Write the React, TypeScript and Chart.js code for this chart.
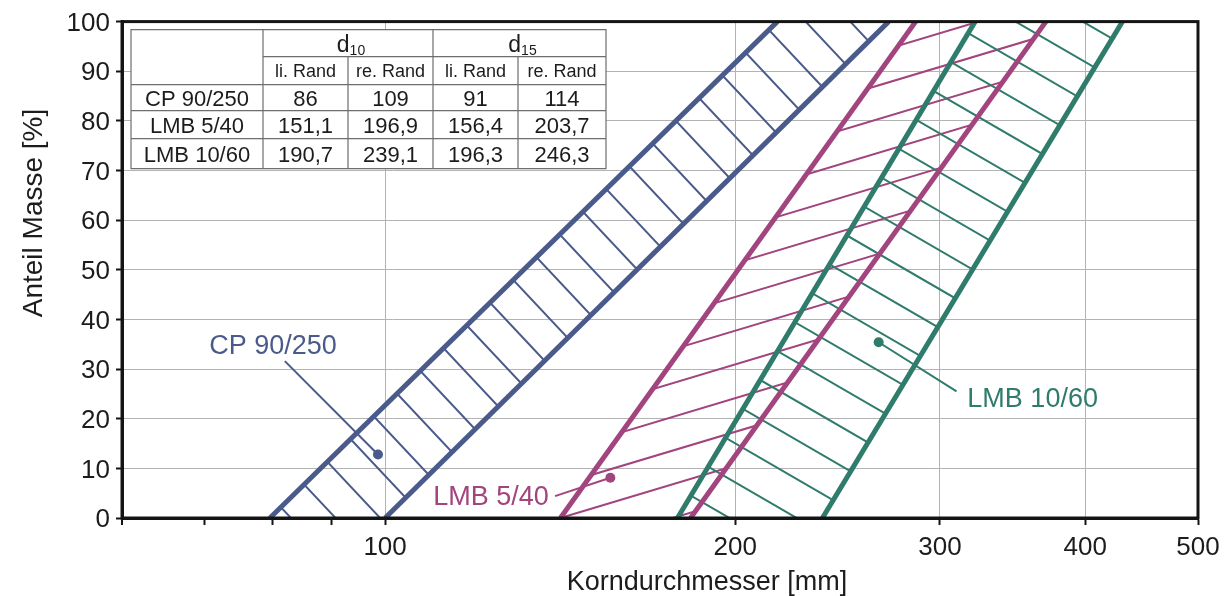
import React, { useEffect, useRef } from 'react';
import { Chart, registerables } from 'chart.js';

Chart.register(...registerables);

// ---------------- data ----------------
const xMin = 59.4;
const xMax = 500;
const xTickValues = [70, 80, 90, 100, 200, 300, 400, 500];
const xLabelValues = [100, 200, 300, 400, 500];
const xGridValues = [100, 200, 300, 400];

const boundaryY = [0, 100];
const cpLeftX = [79.6, 217.4];
const cpRightX = [100.0, 271.0];
const lmb540LeftX = [141.5, 285.9];
const lmb540RightX = [183.1, 370.0];
const lmb1060LeftX = [178.4, 321.6];
const lmb1060RightX = [237.7, 430.5];

// pointer lines: [label end, marker dot]
const cpPointerX = [82.0, 98.6];
const cpPointerY = [31.6, 12.8];
const lmb540PointerX = [140.0, 156.2];
const lmb540PointerY = [4.4, 8.1];
const lmb1060PointerX = [310.0, 265.7];
const lmb1060PointerY = [25.5, 35.4];

const seriesNames = ['CP 90/250', 'LMB 5/40', 'LMB 10/60'];
const tableGroups = ['10', '15'];
const tableSubHeads = ['li. Rand', 're. Rand', 'li. Rand', 're. Rand'];
const d10Left = ['86', '151,1', '190,7'];
const d10Right = ['109', '196,9', '239,1'];
const d15Left = ['91', '156,4', '196,3'];
const d15Right = ['114', '203,7', '246,3'];

const xTitle = 'Korndurchmesser [mm]';
const yTitle = 'Anteil Masse [%]';

// ---------------- styles ----------------
const FONT = "'Liberation Sans', Arial, sans-serif";
const BLUE = '#4a5b8b';
const MAGENTA = '#a2447e';
const TEAL = '#2f7b6c';
const TEXT = '#1c1c1c';

const labelStyles = [
  { text: seriesNames[0], x: 70.6, y: 33.0, color: BLUE },
  { text: seriesNames[1], x: 110.0, y: 2.6, color: MAGENTA },
  { text: seriesNames[2], x: 316.7, y: 22.4, color: TEAL },
];

const hatchStyles = [
  { left: 0, right: 1, color: BLUE, angle: 46.8, spacing: 32.5, ax: 83.0, ay: 0 },
  { left: 2, right: 3, color: MAGENTA, angle: -16.7, spacing: 32.3, ax: 141.5, ay: 0 },
  { left: 4, right: 5, color: TEAL, angle: 30.1, spacing: 33.7, ax: 218.7, ay: 33.3 },
];

const pts = (xs: number[], ys: number[]) => xs.map((x, i) => ({ x, y: ys[i] }));

const boundary = (xs: number[], color: string) => ({
  data: pts(xs, boundaryY),
  borderColor: color,
  borderWidth: 5,
  pointRadius: 0,
  fill: false,
  tension: 0,
  clip: 0,
});

const pointer = (xs: number[], ys: number[], color: string) => ({
  data: pts(xs, ys),
  borderColor: color,
  backgroundColor: color,
  borderWidth: 2,
  pointRadius: [0, 5],
  pointBorderWidth: 0,
  pointBackgroundColor: color,
  fill: false,
  tension: 0,
});

const hatchPlugin = {
  id: 'hatch',
  beforeDatasetsDraw(chart: any) {
    const ctx = chart.ctx;
    const a = chart.chartArea;
    const xs = chart.scales.x;
    const ys = chart.scales.y;
    hatchStyles.forEach((h) => {
      const pl = chart.getDatasetMeta(h.left).data;
      const pr = chart.getDatasetMeta(h.right).data;
      ctx.save();
      ctx.beginPath();
      ctx.rect(a.left, a.top, a.right - a.left, a.bottom - a.top);
      ctx.clip();
      ctx.beginPath();
      pl.forEach((p: any, i: number) => (i ? ctx.lineTo(p.x, p.y) : ctx.moveTo(p.x, p.y)));
      for (let i = pr.length - 1; i >= 0; i--) ctx.lineTo(pr[i].x, pr[i].y);
      ctx.closePath();
      ctx.clip();
      const th = (h.angle * Math.PI) / 180;
      const ux = Math.cos(th);
      const uy = Math.sin(th);
      const nx = -uy;
      const ny = ux;
      const px0 = xs.getPixelForValue(h.ax);
      const py0 = ys.getPixelForValue(h.ay);
      const d0 = nx * px0 + ny * py0;
      const corners = [
        [a.left, a.top],
        [a.right, a.top],
        [a.left, a.bottom],
        [a.right, a.bottom],
      ].map(([cx, cy]) => nx * cx + ny * cy);
      const dmin = Math.min(...corners);
      const dmax = Math.max(...corners);
      const L = 5000;
      ctx.beginPath();
      for (let k = Math.floor((dmin - d0) / h.spacing) - 1; k <= Math.ceil((dmax - d0) / h.spacing) + 1; k++) {
        const d = d0 + k * h.spacing;
        const cx = nx * d;
        const cy = ny * d;
        ctx.moveTo(cx - ux * L, cy - uy * L);
        ctx.lineTo(cx + ux * L, cy + uy * L);
      }
      ctx.strokeStyle = h.color;
      ctx.lineWidth = 2;
      ctx.stroke();
      ctx.restore();
    });
  },
};

const overlayPlugin = {
  id: 'overlay',
  afterDatasetsDraw(chart: any) {
    const ctx = chart.ctx;
    const a = chart.chartArea;
    const xs = chart.scales.x;
    const ys = chart.scales.y;
    ctx.save();
    // frame
    ctx.strokeStyle = '#141414';
    ctx.lineWidth = 3;
    ctx.strokeRect(a.left, a.top, a.right - a.left, a.bottom - a.top);
    ctx.lineWidth = 2;
    ctx.beginPath();
    ctx.moveTo(a.left, a.bottom);
    ctx.lineTo(a.left, a.bottom + 7);
    ctx.stroke();

    // series labels
    ctx.font = `27px ${FONT}`;
    ctx.textAlign = 'left';
    ctx.textBaseline = 'alphabetic';
    labelStyles.forEach((l) => {
      ctx.fillStyle = l.color;
      ctx.fillText(l.text, xs.getPixelForValue(l.x), ys.getPixelForValue(l.y));
    });

    // table
    const colW = [132, 85, 85, 85, 88];
    const rowH = [27, 28, 26, 28, 30];
    const tx = a.left + 9;
    const ty = a.top + 8;
    const colX = [tx];
    colW.forEach((w) => colX.push(colX[colX.length - 1] + w));
    const rowY = [ty];
    rowH.forEach((hh) => rowY.push(rowY[rowY.length - 1] + hh));
    const W = colX[5] - tx;
    const H = rowY[5] - ty;
    ctx.fillStyle = '#ffffff';
    ctx.fillRect(tx, ty, W, H);
    ctx.strokeStyle = '#6e6e6e';
    ctx.lineWidth = 1.2;
    ctx.beginPath();
    ctx.rect(tx, ty, W, H);
    ctx.moveTo(colX[1], rowY[1]);
    ctx.lineTo(colX[5], rowY[1]);
    for (let r = 2; r < 5; r++) {
      ctx.moveTo(tx, rowY[r]);
      ctx.lineTo(colX[5], rowY[r]);
    }
    ctx.moveTo(colX[1], ty);
    ctx.lineTo(colX[1], rowY[5]);
    ctx.moveTo(colX[3], ty);
    ctx.lineTo(colX[3], rowY[5]);
    ctx.moveTo(colX[2], rowY[1]);
    ctx.lineTo(colX[2], rowY[5]);
    ctx.moveTo(colX[4], rowY[1]);
    ctx.lineTo(colX[4], rowY[5]);
    ctx.stroke();

    ctx.fillStyle = TEXT;
    ctx.textBaseline = 'alphabetic';
    tableGroups.forEach((g, gi) => {
      const cx = (colX[1 + gi * 2] + colX[3 + gi * 2]) / 2;
      ctx.font = `23px ${FONT}`;
      const wd = ctx.measureText('d').width;
      ctx.font = `14px ${FONT}`;
      const ws = ctx.measureText(g).width;
      const start = cx - (wd + ws) / 2 + 3;
      const base = rowY[1] - 5;
      ctx.textAlign = 'left';
      ctx.font = `23px ${FONT}`;
      ctx.fillText('d', start, base);
      ctx.font = `14px ${FONT}`;
      ctx.fillText(g, start + wd, base + 3);
    });
    ctx.textAlign = 'center';
    ctx.font = `18px ${FONT}`;
    tableSubHeads.forEach((s, i) => {
      ctx.fillText(s, (colX[1 + i] + colX[2 + i]) / 2, rowY[2] - 8);
    });
    ctx.font = `22px ${FONT}`;
    const cols = [seriesNames, d10Left, d10Right, d15Left, d15Right];
    for (let r = 0; r < 3; r++) {
      const base = rowY[3 + r] - (rowH[2 + r] - 16) / 2;
      cols.forEach((c, ci) => {
        ctx.fillText(c[r], (colX[ci] + colX[ci + 1]) / 2, base);
      });
    }
    ctx.restore();
  },
  afterDraw(chart: any) {
    const ctx = chart.ctx;
    ctx.save();
    ctx.fillStyle = TEXT;
    ctx.font = `27px ${FONT}`;
    ctx.textAlign = 'center';
    ctx.textBaseline = 'alphabetic';
    ctx.fillText(xTitle, 707, 590);
    ctx.translate(42, 213);
    ctx.rotate(-Math.PI / 2);
    ctx.font = `28px ${FONT}`;
    ctx.fillText(yTitle, 0, 0);
    ctx.restore();
  },
};

export default function App() {
  const ref = useRef<HTMLCanvasElement>(null);
  useEffect(() => {
    const canvas = ref.current;
    if (!canvas) return;
    const chart = new Chart(canvas, {
      type: 'line',
      data: {
        datasets: [
          boundary(cpLeftX, BLUE),
          boundary(cpRightX, BLUE),
          boundary(lmb540LeftX, MAGENTA),
          boundary(lmb540RightX, MAGENTA),
          boundary(lmb1060LeftX, TEAL),
          boundary(lmb1060RightX, TEAL),
          pointer(cpPointerX, cpPointerY, BLUE),
          pointer(lmb540PointerX, lmb540PointerY, MAGENTA),
          pointer(lmb1060PointerX, lmb1060PointerY, TEAL),
        ] as any,
      },
      options: {
        responsive: false,
        animation: false,
        events: [],
        layout: { padding: { left: 0, right: 32, top: 18, bottom: 0 } },
        plugins: { legend: { display: false }, tooltip: { enabled: false }, title: { display: false } },
        scales: {
          x: {
            type: 'logarithmic',
            min: xMin,
            max: xMax,
            afterBuildTicks: (s: any) => {
              s.ticks = xTickValues.map((v) => ({ value: v }));
            },
            afterFit: (s: any) => {
              s.height = 78;
            },
            ticks: {
              autoSkip: false,
              maxRotation: 0,
              minRotation: 0,
              padding: 7,
              color: TEXT,
              font: { family: FONT, size: 26 },
              callback: (v: any) => (xLabelValues.includes(Number(v)) ? String(v) : ''),
            },
            grid: {
              color: (c: any) => (c.tick && xGridValues.includes(c.tick.value) ? '#b3b3b3' : 'rgba(0,0,0,0)'),
              lineWidth: 1,
              drawTicks: true,
              tickLength: 7,
              tickColor: '#141414',
              tickWidth: 2,
            },
            border: { display: true, color: '#141414', width: 3 },
          },
          y: {
            type: 'linear',
            min: 0,
            max: 100,
            afterFit: (s: any) => {
              s.width = 122;
            },
            ticks: {
              stepSize: 10,
              padding: 6,
              labelOffset: 2,
              color: TEXT,
              font: { family: FONT, size: 26 },
            },
            grid: {
              color: '#b3b3b3',
              lineWidth: 1,
              drawTicks: true,
              tickLength: 6,
              tickColor: '#141414',
              tickWidth: 2,
            },
            border: { display: true, color: '#141414', width: 3 },
          },
        },
      } as any,
      plugins: [hatchPlugin, overlayPlugin],
    });
    return () => chart.destroy();
  }, []);
  return (
    <div style={{ position: 'fixed', left: 0, top: 0, width: 1230, height: 596, background: '#ffffff' }}>
      <canvas ref={ref} width={1230} height={596} style={{ display: 'block', width: 1230, height: 596 }} />
    </div>
  );
}
